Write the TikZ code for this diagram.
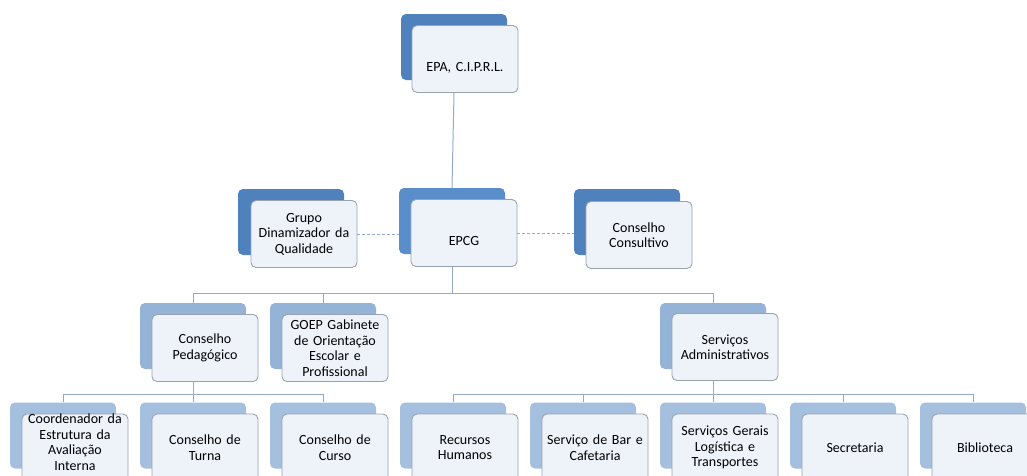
\documentclass[tikz,border=0pt]{standalone}
\usepackage{fontspec}
\setmainfont{Carlito}
\usepackage{tikz}
\usetikzlibrary{calc}
\definecolor{darkblue}{HTML}{4F81BD}
\definecolor{midblue}{HTML}{5A8ECB}
\definecolor{paleblue}{HTML}{95B3D7}
\definecolor{lightblue}{HTML}{A5BFDF}
\definecolor{boxfill}{HTML}{EEF3FA}
\definecolor{boxline}{HTML}{97A3B0}
\definecolor{linkline}{HTML}{93AACB}

\begin{document}
\begin{tikzpicture}[x=1pt,y=-1pt]
    \tikzstyle{back}=[rounded corners=5pt,minimum width=106pt,minimum height=66pt,inner sep=0pt,fill=darkblue]
    \tikzstyle{front}=[rounded corners=5pt,minimum width=106pt,minimum height=67pt,inner sep=2pt,text width=100pt,align=center,draw=boxline,line width=0.9pt,fill=boxfill,font=\fontsize{14}{15.5}\selectfont]
    \tikzstyle{lev3}=[fill=paleblue]
    \tikzstyle{lev4}=[fill=lightblue]
    \tikzstyle{low}=[text height=26pt,text depth=2pt]
    \tikzstyle{link}=[draw=linkline,line width=1pt]
    \tikzstyle{side}=[draw=linkline,line width=1pt,dash pattern=on 3pt off 2pt]

    \useasboundingbox (0,0) rectangle (1027,475);

    % top
    \node[back] (epab) at (454,47) {};
    \node[front,low] (epa) at ($(epab)+(11,12)$) {EPA, C.I.P.R.L.};

    % second row
    \node[back,fill=midblue] (epcgb) at (452,221) {};
    \node[front,low] (epcg) at ($(epcgb)+(12,12)$) {EPCG};
    \node[back] (grupob) at (291,222) {};
    \node[front] (grupo) at ($(grupob)+(13,12)$) {Grupo\\Dinamizador da\\Qualidade};
    \node[back] (consb) at (627,222) {};
    \node[front] (cons) at ($(consb)+(12,13)$) {Conselho\\Consultivo};

    % third row
    \node[back,lev3] (pedb) at (193,336) {};
    \node[front] (ped) at ($(pedb)+(12,12)$) {Conselho\\Pedagógico};
    \node[back,lev3] (goepb) at (323,336) {};
    \node[front] (goep) at ($(goepb)+(12,12)$) {GOEP Gabinete\\de Orientação\\Escolar e\\Profissional};
    \node[back,lev3] (admb) at (713,336) {};
    \node[front] (adm) at ($(admb)+(12,11)$) {Serviços\\Administrativos};

    % bottom row
    \node[back,lev4] (coordb) at (63,435.5) {};
    \node[front,inner sep=0pt,text depth=57pt] (coord) at ($(coordb)+(12,12)$) {Coordenador da\\Estrutura da\\Avaliação\\Interna};
    \node[back,lev4] (turnab) at (193,435.5) {};
    \node[front] (turna) at ($(turnab)+(12,12)$) {Conselho de\\Turna};
    \node[back,lev4] (cursob) at (323,435.5) {};
    \node[front] (curso) at ($(cursob)+(12,12)$) {Conselho de\\Curso};
    \node[back,lev4] (rhb) at (453,435.5) {};
    \node[front] (rh) at ($(rhb)+(12,12)$) {Recursos\\Humanos};
    \node[back,lev4] (barb) at (583,435.5) {};
    \node[front] (bar) at ($(barb)+(12,12)$) {Serviço de Bar e\\Cafetaria};
    \node[back,lev4] (geraisb) at (713,435.5) {};
    \node[front] (gerais) at ($(geraisb)+(12,12)$) {Serviços Gerais\\Logística e\\Transportes};
    \node[back,lev4] (secb) at (843,435.5) {};
    \node[front] (sec) at ($(secb)+(12,12)$) {Secretaria};
    \node[back,lev4] (bibb) at (973,435.5) {};
    \node[front] (bib) at ($(bibb)+(12,12)$) {Biblioteca};

    % connectors
    \coordinate (bus1) at (0,293);
    \coordinate (bus2) at (0,394);
    \draw[link] (epab |- epa.south) -- (epcgb.north);
    \draw[link] (epcgb |- epcg.south) -- (epcgb |- bus1);
    \draw[link] (pedb.north) -- (pedb |- bus1) -- (admb |- bus1) -- (admb.north);
    \draw[link] (goepb.north) -- (goepb |- bus1);
    \draw[link] (pedb |- ped.south) -- (pedb |- bus2);
    \draw[link] (coordb.north) -- (coordb |- bus2) -- (cursob |- bus2) -- (cursob.north);
    \draw[link] (turnab.north) -- (turnab |- bus2);
    \draw[link] (admb |- adm.south) -- (admb |- bus2);
    \draw[link] (rhb.north) -- (rhb |- bus2) -- (bibb |- bus2) -- (bibb.north);
    \foreach \n in {barb,geraisb,secb} \draw[link] (\n.north) -- (\n |- bus2);
    \draw[side] (grupo.east) -- (grupo.east -| epcgb.west);
    \draw[side] (epcg.east) -- (epcg.east -| consb.west);

\end{tikzpicture}
\end{document}
